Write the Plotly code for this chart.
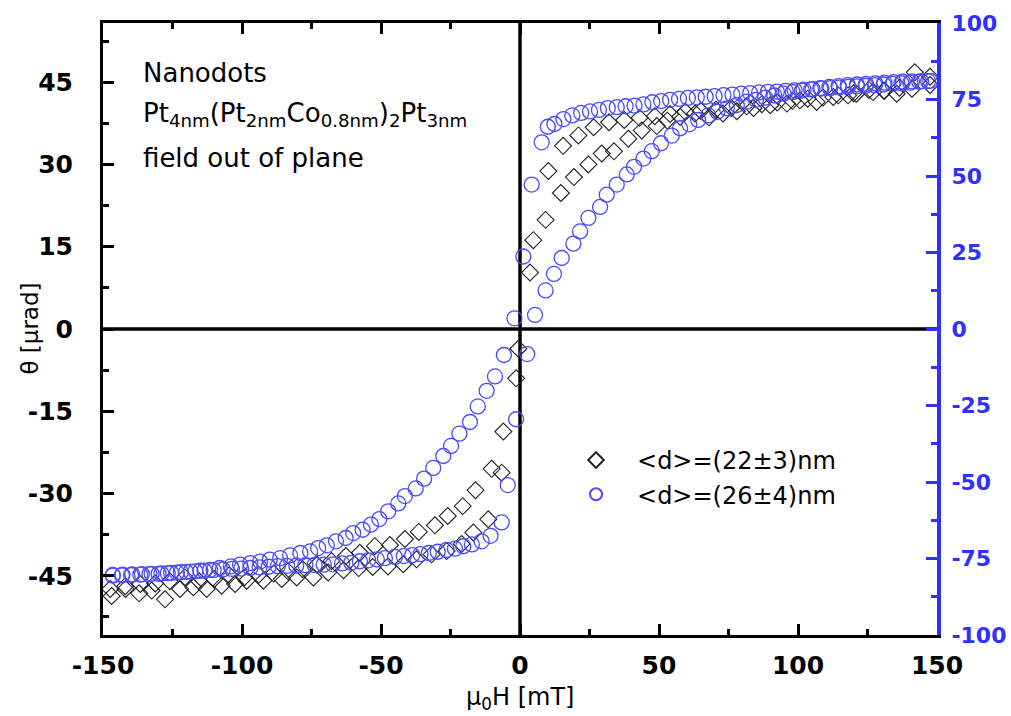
import plotly.graph_objects as go

# ---------------- data ----------------
# Series 1: <d>=(22±3)nm  (left axis, theta in µrad)
d22_desc_H = [147.5, 142.0, 136.5, 131.0, 125.5, 120.0, 114.5, 109.0, 103.5, 98.0,
              92.5, 87.0, 81.5, 76.0, 70.5, 65.0, 59.5, 54.0, 48.5, 43.0,
              37.5, 32.0, 26.5, 21.0, 15.5, 10.2, 4.8, -0.6, -6.0, -10.2,
              -16.0, -20.6, -26.0, -30.6, -36.4, -41.4, -46.8, -52.2, -57.6, -62.6,
              -67.8, -73.0, -78.2, -83.4, -88.6, -94.0, -99.2, -104.6, -110.0, -115.4,
              -120.6, -126.0, -131.2, -136.6, -142.0, -147.4]
d22_desc_theta = [46.0, 46.8, 44.0, 43.5, 43.6, 43.0, 42.6, 42.2, 42.0, 41.6,
                  41.3, 41.0, 40.6, 40.3, 40.0, 39.8, 39.6, 39.2, 38.8, 38.5,
                  38.1, 37.7, 36.8, 35.3, 33.4, 28.8, 16.2, -3.6, -18.7, -25.5,
                  -29.4, -32.3, -34.1, -35.8, -37.0, -38.3, -39.4, -39.6, -40.8, -41.4,
                  -42.3, -43.0, -43.8, -44.2, -44.6, -44.8, -45.3, -44.9, -45.6, -46.0,
                  -45.3, -46.0, -46.4, -46.5, -46.9, -47.4]
d22_asc_H = [-146.9, -141.9, -137.0, -132.5, -127.7, -122.3, -117.5, -112.7, -107.3, -102.5,
             -98.3, -92.3, -85.7, -80.3, -74.3, -69.0, -63.5, -58.0, -53.0, -47.5,
             -42.0, -37.2, -31.8, -26.4, -21.0, -16.8, -11.4, -6.6, -1.4, 3.6,
             9.2, 14.7, 19.4, 24.6, 29.4, 33.8, 39.0, 43.8, 49.2, 53.0,
             57.6, 63.0, 68.0, 73.0, 78.0, 84.0, 90.0, 96.0, 100.7, 106.7,
             112.7, 118.0, 121.0, 127.0, 131.0, 135.5, 141.0, 147.5]
d22_asc_theta = [-48.7, -47.4, -48.2, -47.7, -49.3, -47.4, -47.1, -47.4, -46.8, -46.5,
                 -45.9, -45.9, -45.6, -45.3, -45.3, -44.4, -44.0, -43.6, -43.4, -43.3,
                 -42.9, -42.0, -41.1, -40.5, -39.2, -37.1, -34.7, -26.2, -9.0, 10.3,
                 19.9, 24.8, 27.7, 30.0, 32.0, 32.4, 34.7, 36.2, 37.0, 38.0,
                 38.7, 39.3, 38.6, 39.3, 39.7, 40.3, 40.8, 41.1, 41.7, 41.4,
                 42.3, 42.6, 42.9, 43.2, 43.4, 42.9, 43.8, 44.5]

# Series 2: <d>=(26±4)nm  (right axis)
d26_desc_H = [146.8, 143.6, 140.4, 137.2, 134.0, 130.8, 127.6, 124.4, 121.2, 118.0,
              114.8, 111.6, 108.4, 105.2, 102.0, 98.8, 95.6, 92.4, 89.2, 86.0,
              82.8, 79.6, 76.4, 73.2, 70.0, 66.8, 63.6, 60.4, 57.2, 54.0,
              50.8, 47.6, 44.4, 41.2, 38.0, 34.8, 31.6, 28.4, 25.2, 22.0,
              18.8, 15.6, 12.4, 10.0, 7.8, 4.2, 1.2, -2.0, -5.8, -9.0,
              -12.0, -15.2, -18.0, -21.8, -24.8, -27.6, -31.2, -34.5, -37.5, -41.4,
              -43.8, -47.4, -50.6, -53.6, -56.6, -60.0, -62.7, -66.2, -69.5, -72.6,
              -75.5, -79.0, -82.7, -86.3, -90.0, -93.5, -97.0, -100.7, -104.0, -108.0,
              -111.5, -115.0, -118.5, -122.0, -125.5, -129.0, -132.5, -136.0, -139.5, -143.0,
              -146.5]
d26_desc_val = [81.0, 80.8, 80.5, 80.3, 80.1, 79.9, 79.7, 79.5, 79.3, 79.1,
                78.9, 78.7, 78.6, 78.4, 78.2, 78.0, 77.8, 77.6, 77.5, 77.3,
                77.1, 76.9, 76.6, 76.4, 76.1, 75.9, 75.7, 75.5, 75.2, 74.9,
                74.5, 74.1, 73.4, 73.0, 72.8, 72.5, 72.2, 71.6, 71.1, 70.6,
                69.8, 68.6, 67.0, 66.1, 61.0, 47.2, 23.7, 3.5, -8.5, -15.5,
                -20.2, -25.3, -30.4, -34.2, -38.2, -41.5, -45.4, -48.9, -52.1, -54.6,
                -57.0, -59.6, -62.1, -63.9, -65.6, -66.7, -68.3, -69.4, -70.7, -71.6,
                -72.7, -73.2, -74.0, -74.9, -75.4, -76.0, -76.5, -77.0, -77.6, -78.1,
                -78.7, -79.0, -79.3, -79.5, -79.7, -79.9, -80.0, -80.1, -80.2, -80.3,
                -80.4]
d26_asc_H = [-146.5, -143.2, -139.9, -136.6, -133.3, -130.0, -126.7, -123.4, -120.1, -116.8,
             -113.5, -110.2, -106.9, -103.6, -100.3, -97.0, -93.7, -90.4, -87.1, -83.8,
             -80.5, -77.2, -73.9, -70.6, -67.3, -64.0, -60.7, -57.6, -54.6, -51.5,
             -48.6, -45.0, -41.8, -38.8, -35.8, -32.8, -29.6, -26.4, -23.4, -20.4,
             -17.3, -13.8, -10.6, -6.6, -4.4, -1.4, 2.6, 5.4, 9.2, 12.2,
             15.0, 19.2, 21.6, 24.6, 28.8, 31.2, 34.8, 38.4, 41.0, 44.4,
             47.4, 50.7, 54.6, 57.6, 60.9, 64.1, 67.7, 71.0, 74.4, 78.0,
             81.5, 84.9, 88.2, 91.5, 94.8, 98.1, 101.4, 104.7, 108.0, 111.3,
             114.6, 117.9, 121.2, 124.5, 127.8, 131.1, 134.4, 137.7, 141.0, 144.3,
             147.6]
d26_asc_val = [-80.6, -80.5, -80.4, -80.3, -80.1, -80.0, -79.8, -79.6, -79.4, -79.2,
               -79.0, -78.8, -78.6, -78.4, -78.3, -78.1, -77.9, -77.7, -77.5, -77.4,
               -77.3, -77.2, -77.1, -77.0, -76.9, -76.6, -76.4, -75.9, -75.6, -75.3,
               -74.9, -74.5, -74.2, -73.9, -73.6, -73.2, -72.8, -72.2, -71.8, -71.0,
               -70.4, -69.4, -67.6, -63.2, -51.0, -29.5, -8.2, 4.6, 12.6, 18.0,
               23.2, 27.9, 31.9, 36.3, 39.9, 43.9, 47.2, 50.5, 53.0, 55.7,
               58.1, 60.7, 63.2, 65.6, 66.9, 68.3, 69.8, 71.0, 72.1, 73.2,
               74.3, 74.9, 75.6, 76.3, 76.9, 77.4, 77.9, 78.3, 78.7, 79.1,
               79.4, 79.7, 79.9, 80.1, 80.3, 80.5, 80.7, 80.8, 80.9, 81.0,
               81.1]

series_names = ["&lt;d&gt;=(22±3)nm", "&lt;d&gt;=(26±4)nm"]
x_ticks = [-150, -100, -50, 0, 50, 100, 150]
left_ticks = [-45, -30, -15, 0, 15, 30, 45]
right_ticks = [-100, -75, -50, -25, 0, 25, 50, 75, 100]

# ---------------- styles ----------------
FONT = "DejaVu Sans, Liberation Sans, sans-serif"
BLACK = "#000000"
BLUE = "#3030ff"
CIRC = "#4a4aff"

fig = go.Figure()
fig.add_trace(go.Scatter(
    x=d22_desc_H + d22_asc_H, y=d22_desc_theta + d22_asc_theta,
    mode="markers", name=series_names[0], yaxis="y",
    marker=dict(symbol="diamond-open", size=13, color="#222222",
                line=dict(width=1.1, color="#222222")),
))
fig.add_trace(go.Scatter(
    x=d26_desc_H + d26_asc_H, y=d26_desc_val + d26_asc_val,
    mode="markers", name=series_names[1], yaxis="y2",
    marker=dict(symbol="circle-open", size=15, color=CIRC,
                line=dict(width=1.3, color=CIRC)),
))

tickfont_k = dict(family=FONT, size=25, color=BLACK, weight="bold")
tickfont_b = dict(family=FONT, size=22, color=BLUE, weight="bold")

fig.update_layout(
    width=1011, height=716,
    margin=dict(l=103, r=74, t=23, b=81, autoexpand=False),
    paper_bgcolor="white", plot_bgcolor="white",
    showlegend=True,
    legend=dict(x=0.542, y=0.322, xanchor="left", yanchor="top",
                bgcolor="rgba(0,0,0,0)", itemsizing="constant", itemwidth=72,
                font=dict(family=FONT, size=24, color=BLACK)),
    xaxis=dict(
        range=[-150, 150], tickmode="array", tickvals=x_ticks,
        ticktext=[str(v) for v in x_ticks], automargin=False,
        ticks="inside", ticklen=11, tickwidth=3, tickcolor=BLACK,
        showline=True, linewidth=3, linecolor=BLACK, mirror="ticks",
        minor=dict(ticks="inside", ticklen=6, tickwidth=3, tickcolor=BLACK,
                   tick0=0, dtick=25),
        showgrid=False, zeroline=False,
        tickfont=tickfont_k, ticklabelstandoff=6,
    ),
    yaxis=dict(
        range=[-55.8, 55.8], tickmode="array", tickvals=left_ticks,
        ticktext=[str(v) for v in left_ticks], automargin=False,
        ticks="inside", ticklen=11, tickwidth=3, tickcolor=BLACK,
        showline=True, linewidth=3, linecolor=BLACK, mirror=False,
        minor=dict(ticks="inside", ticklen=6, tickwidth=3, tickcolor=BLACK,
                   tick0=0, dtick=7.5),
        showgrid=False, zeroline=False,
        tickfont=tickfont_k, ticklabelstandoff=22,
    ),
    yaxis2=dict(
        range=[-100, 100], overlaying="y", side="right", tickmode="array",
        tickvals=right_ticks, ticktext=[str(v) for v in right_ticks],
        automargin=False,
        ticks="inside", ticklen=11, tickwidth=3, tickcolor=BLUE,
        showline=True, linewidth=4, linecolor=BLUE,
        minor=dict(ticks="inside", ticklen=6, tickwidth=3, tickcolor=BLUE,
                   tick0=0, dtick=12.5),
        showgrid=False, zeroline=False,
        tickfont=tickfont_b, ticklabelstandoff=6,
    ),
)

# thick zero lines (axis cross lines)
fig.add_shape(type="line", xref="x", yref="paper", x0=0, x1=0, y0=0, y1=1,
              line=dict(color=BLACK, width=3.5), layer="below")
fig.add_shape(type="line", xref="paper", yref="y", x0=0, x1=1, y0=0, y1=0,
              line=dict(color=BLACK, width=3.5), layer="below")

ann_font = dict(family=FONT, size=26, color=BLACK)
fig.add_annotation(text="Nanodots", xref="paper", yref="paper",
                   x=0.046, y=0.918, xanchor="left", yanchor="middle",
                   showarrow=False, font=ann_font)
fig.add_annotation(text="Pt<sub>4nm</sub>(Pt<sub>2nm</sub>Co<sub>0.8nm</sub>)<sub>2</sub>Pt<sub>3nm</sub>",
                   xref="paper", yref="paper",
                   x=0.046, y=0.851, xanchor="left", yanchor="middle",
                   showarrow=False, font=ann_font)
fig.add_annotation(text="field out of plane", xref="paper", yref="paper",
                   x=0.046, y=0.779, xanchor="left", yanchor="middle",
                   showarrow=False, font=ann_font)
fig.add_annotation(text="µ<sub>0</sub>H [mT]", xref="paper", yref="paper",
                   x=0.5, y=-0.104, xanchor="center", yanchor="middle",
                   showarrow=False, font=dict(family=FONT, size=24, color=BLACK))
fig.add_annotation(text="θ [µrad]", xref="paper", yref="paper",
                   x=-0.088, y=0.5, xanchor="center", yanchor="middle",
                   textangle=-90, showarrow=False,
                   font=dict(family=FONT, size=23, color=BLACK))

fig.write_html("out.html", config={"displayModeBar": False},
               post_script="document.body.style.margin='0px';document.body.style.padding='0px';")
